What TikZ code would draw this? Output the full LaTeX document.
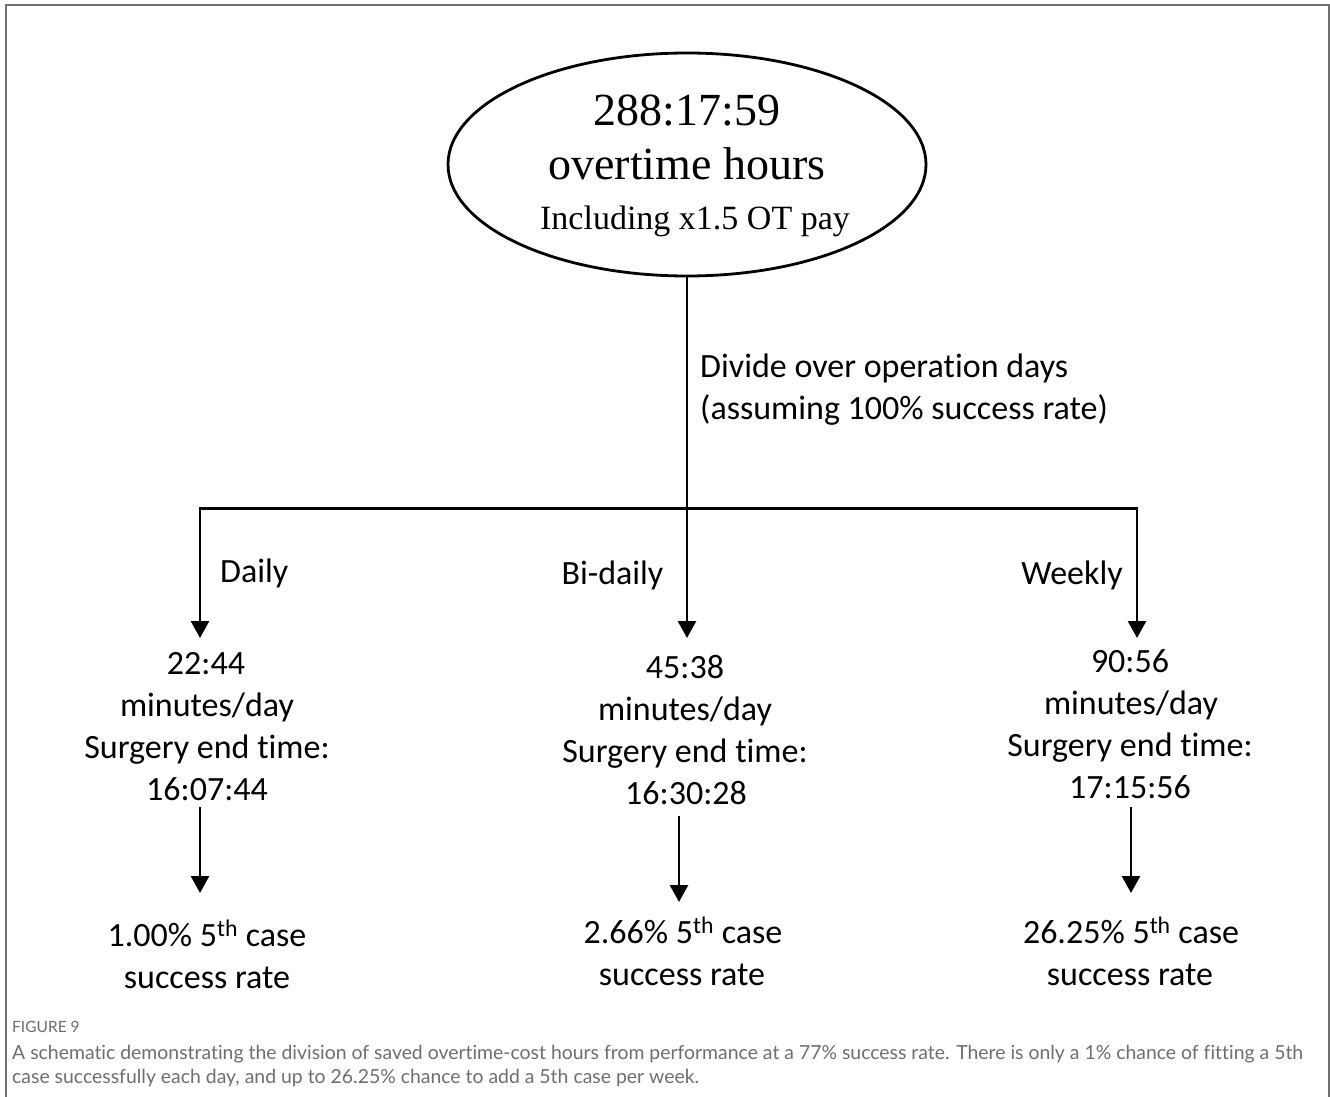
\documentclass[tikz,border=0pt]{standalone}
\usepackage{fontspec}
\setmainfont{Carlito}[Ligatures={NoCommon}]
\newfontfamily\serifx{Liberation Serif}
\newfontfamily\capfont{Lato}[Ligatures={NoCommon}]
\usetikzlibrary{shapes.geometric,arrows.meta}
\definecolor{framegray}{HTML}{707070}
\definecolor{capgray}{HTML}{6E6E6E}
\tikzset{
  conn/.style={line width=2.8pt, line cap=rect, draw=black},
  arr/.style={conn, -{Triangle[width=18pt,length=17pt]}},
  body/.style={inner sep=0pt, anchor=base, font=\fontsize{34}{40}\selectfont},
  bodyw/.style={body, anchor=base west},
  ser/.style={inner sep=0pt, anchor=base, font=\serifx\fontsize{46}{52}\selectfont},
  sers/.style={inner sep=0pt, anchor=base, font=\serifx\fontsize{34}{40}\selectfont},
  captext/.style={inner sep=0pt, anchor=base west, text=capgray, font=\capfont\fontsize{19.4}{22}\selectfont},
}
\begin{document}
\begin{tikzpicture}[x=1pt,y=-1pt]
\useasboundingbox (0,0) rectangle (1330,1097);
\fill[white] (0,0) rectangle (1330,1097);
\draw[framegray, line width=1.5pt] (6,1097) -- (6,5) -- (1329,5) -- (1329,1097);

% top ellipse
\node[draw, ellipse, line width=2.8pt, minimum width=478pt, minimum height=223pt, inner sep=0pt] (top) at (687,164.5) {};
\node[ser] (t1) at (687,125) {288:17:59};
\node[ser] (t2) at (687,179) {overtime hours};
\node[sers] (t3) at (695,229) {Including x1.5 OT pay};

% coordinates
\coordinate (jm) at (687,508.5);
\coordinate (jl) at (200,508.5);
\coordinate (jr) at (1137,508.5);
\coordinate (tipM) at (687,638);
\coordinate (tipL) at (200,638);
\coordinate (tipR) at (1137,638);

\draw[arr] (top.south) -- (tipM);
\draw[conn, line join=miter] (tipL |- 0,620) -- (jl) -- (jr) -- (tipR |- 0,620);
\draw[arr] (jl) -- (tipL);
\draw[arr] (jr) -- (tipR);

\node[bodyw] (d1) at (700,377) {Divide over operation days};
\node[bodyw] (d2) at (700,419) {(assuming 100\% success rate)};

\node[bodyw] (lbD) at (220,582) {Daily};
\node[body] (lbB) at (612.5,584) {Bi-daily};
\node[body] (lbW) at (1072,584) {Weekly};

% left block
\node[body] (l1) at (206,674) {22:44};
\node[body] (l2) at (207,716) {minutes/day};
\node[body] (l3) at (207,758) {Surgery end time:};
\node[body] (l4) at (207,800) {16:07:44};
% middle block
\node[body] (m1) at (685,678) {45:38};
\node[body] (m2) at (685,720) {minutes/day};
\node[body] (m3) at (685,762) {Surgery end time:};
\node[body] (m4) at (686,804) {16:30:28};
% right block
\node[body] (r1) at (1130,672) {90:56};
\node[body] (r2) at (1131,714) {minutes/day};
\node[body] (r3) at (1130,756) {Surgery end time:};
\node[body] (r4) at (1130,798) {17:15:56};

\coordinate (sL) at (200,808);
\coordinate (eL) at (200,893);
\coordinate (sM) at (679,817);
\coordinate (eM) at (679,902);
\coordinate (sR) at (1131,808);
\coordinate (eR) at (1131,893);
\draw[arr] (sL) -- (eL);
\draw[arr] (sM) -- (eM);
\draw[arr] (sR) -- (eR);

\node[body] (b1) at (207,946) {1.00\% 5\textsuperscript{th} case};
\node[body] (b2) at (207,988) {success rate};
\node[body] (b3) at (683,943) {2.66\% 5\textsuperscript{th} case};
\node[body] (b4) at (682,985) {success rate};
\node[body] (b5) at (1131,943) {26.25\% 5\textsuperscript{th} case};
\node[body] (b6) at (1130,985) {success rate};

% caption
\node[captext, font=\capfont\fontsize{15.5}{18}\selectfont] (fig) at (12,1032) {FIGURE 9};
\node[captext] (c1) at (12,1059) {A schematic demonstrating the division of saved overtime-cost hours from performance at a 77\% success rate. There is only a 1\% chance of fitting a 5th};
\node[captext] (c2) at (12,1083) {case successfully each day, and up to 26.25\% chance to add a 5th case per week.};
\end{tikzpicture}
\end{document}
